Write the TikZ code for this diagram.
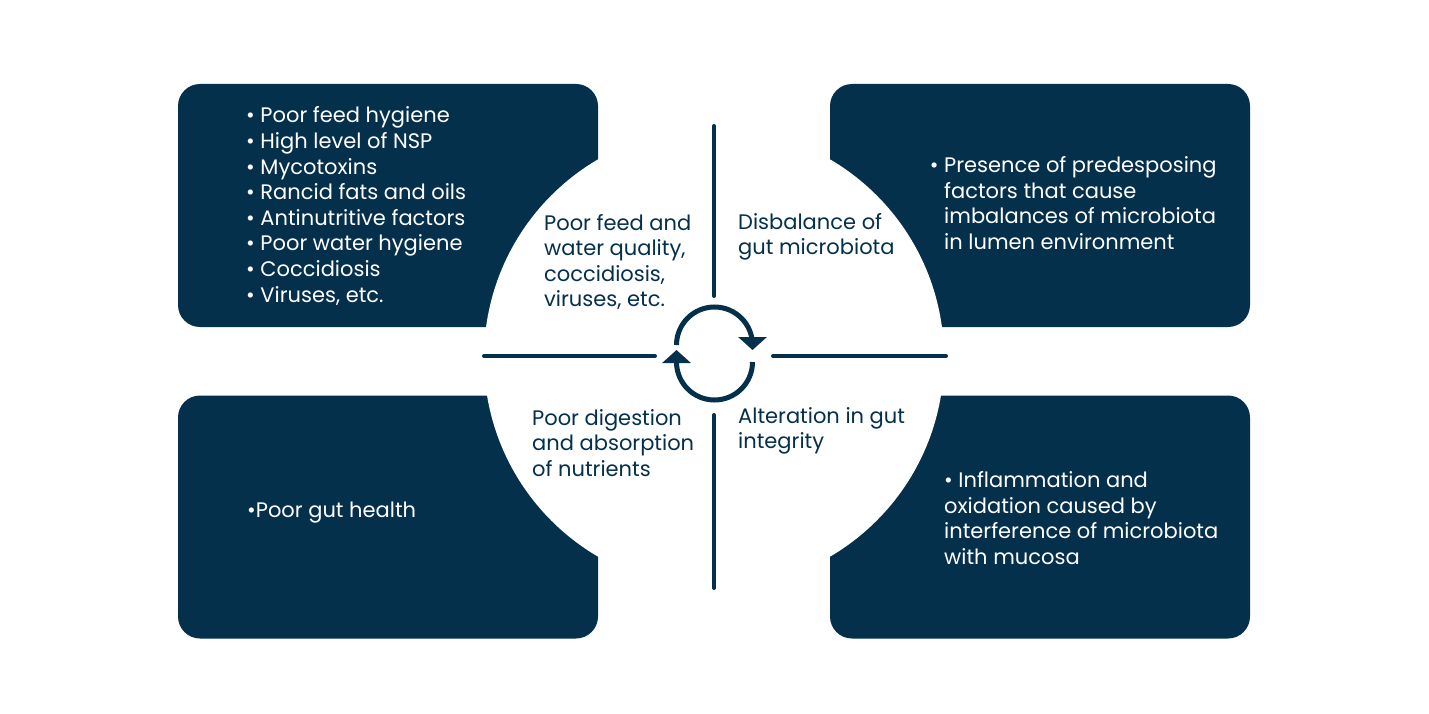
\documentclass[tikz,border=0pt]{standalone}
\usepackage{fontspec}
\setmainfont{Poppins}
\usetikzlibrary{arrows.meta}
\definecolor{navy}{HTML}{05304B}
\tikzset{
    box/.style={rectangle, rounded corners=22pt, fill=navy, draw=none,
        minimum width=420pt, minimum height=243pt, inner sep=0pt},
    boxtext/.style={text=white, anchor=west, align=left, inner sep=0pt,
        font=\fontsize{21}{25.6}\selectfont},
    midtext/.style={text=navy, anchor=west, align=left, inner sep=0pt,
        font=\fontsize{21}{25.6}\selectfont},
    axis/.style={draw=navy, line width=4pt, line cap=round},
    cycle/.style={draw=navy, line width=5pt,
        -{Triangle[width=28pt, length=13pt]}}
}

\begin{document}
\begin{tikzpicture}[x=1pt, y=-1pt]
    \useasboundingbox (0,0) rectangle (1429,714);

    \node (tl) at (388,205.5) [box] {};
    \node (tr) at (1040,205.5) [box] {};
    \node (bl) at (388,517) [box] {};
    \node (br) at (1040,517) [box] {};

    % white disc cutting the inner corners
    \node (hub) at (714,358) [circle, fill=white, draw=none, minimum size=460pt] {};

    \coordinate (vt1) at (714,126);
    \coordinate (vt2) at (714,296);
    \coordinate (vb1) at (714,415);
    \coordinate (vb2) at (714,588);
    \coordinate (hl1) at (484,356);
    \coordinate (hl2) at (655,356);
    \coordinate (hr1) at (773,356);
    \coordinate (hr2) at (946,356);

    \draw[axis] (vt1) -- (vt2);
    \draw[axis] (vb1) -- (vb2);
    \draw[axis] (hl1) -- (hl2);
    \draw[axis] (hr1) -- (hr2);

    \coordinate (cu) at (676.5,345);
    \coordinate (cd) at (752.5,362);
    \draw[cycle] (cu) arc[start angle=180, end angle=0, radius=38pt] -- ++(0,5);
    \draw[cycle] (cd) arc[start angle=0, end angle=-180, radius=38pt] -- ++(0,-12);

    \node (tllist) at (246,206) [boxtext]
        {• Poor feed hygiene\\• High level of NSP\\• Mycotoxins\\
         • Rancid fats and oils\\• Antinutritive factors\\
         • Poor water hygiene\\• Coccidiosis\\• Viruses, etc.};
    \node (trlist) at (944,203) [boxtext]
        {\llap{•\ }Presence of predesposing\\factors that cause\\
         imbalances of microbiota\\in lumen environment};
    \node (bllist) at (247,513) [boxtext] {•Poor gut health};
    \node (brlist) at (944,518) [boxtext]
        {• Inflammation and\\oxidation caused by\\
         interference of microbiota\\with mucosa};

    \node (qtl) at (544,262) [midtext]
        {Poor feed and\\water quality,\\coccidiosis,\\viruses, etc.};
    \node (qtr) at (738,237) [midtext] {Disbalance of\\gut microbiota};
    \node (qbl) at (532,443) [midtext]
        {Poor digestion\\and absorption\\of nutrients};
    \node (qbr) at (738,431) [midtext] {Alteration in gut\\integrity};
\end{tikzpicture}
\end{document}
